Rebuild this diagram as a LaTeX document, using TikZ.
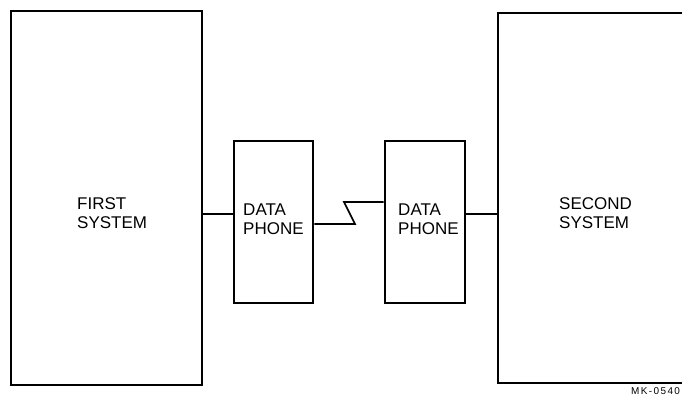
\documentclass[tikz,border=0pt]{standalone}
\usepackage{fontspec}
\setmainfont{Liberation Sans}
\newfontfamily\tagfont[LetterSpace=14]{Liberation Sans}
\usepackage{tikz}

\tikzset{
    unitbox/.style={draw=black,line width=2.5pt,rectangle,inner sep=0pt},
    boxtext/.style={anchor=west,align=left,inner sep=0pt,font=\fontsize{14.5}{16.5}\selectfont},
    wire/.style={draw=black,line width=1.4pt}
}

\begin{document}
\begin{tikzpicture}[x=0.03cm,y=-0.03cm]
        \useasboundingbox (0,0) rectangle (682,404);
        % the four units
        \node[unitbox,minimum width=5.73cm,minimum height=11.22cm] (first) at (106.5,198) {};
        \node[unitbox,minimum width=2.37cm,minimum height=4.86cm] (phoneA) at (273.5,222) {};
        \node[unitbox,minimum width=2.40cm,minimum height=4.86cm] (phoneB) at (425,222) {};
        \node[unitbox,minimum width=6.06cm,minimum height=11.10cm] (second) at (599,198) {};
        % texts
        \node[boxtext] (firstlbl) at (77,213) {FIRST\\SYSTEM};
        \node[boxtext] (phoneAlbl) at (243,219) {DATA\\PHONE};
        \node[boxtext] (phoneBlbl) at (398,219) {DATA\\PHONE};
        \node[boxtext] (secondlbl) at (559,213) {SECOND\\SYSTEM};
        \node[anchor=west,inner sep=0pt,font=\tagfont\fontsize{8.5}{9}\selectfont] (tag) at (631,391.5) {MK-0540};
        % lines
        \coordinate (lvl) at (0,214);
        \coordinate (zzlow) at (355,224);
        \coordinate (zzhigh) at (344,202);
        \draw[wire] (first.east |- lvl) -- (phoneA.west |- lvl);
        \draw[wire] (phoneA.east |- zzlow) -- (zzlow) -- (zzhigh) -- (phoneB.west |- zzhigh);
        \draw[wire] (phoneB.east |- lvl) -- (second.west |- lvl);
    \end{tikzpicture}
\end{document}
